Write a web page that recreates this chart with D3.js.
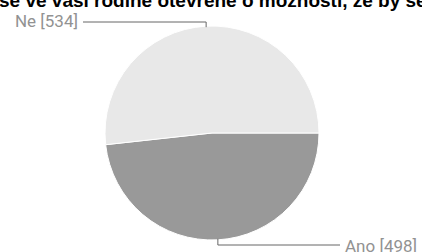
<!DOCTYPE html>
<html><head><meta charset="utf-8">
<script src="https://cdn.jsdelivr.net/npm/d3@7"></script>
<style>body{margin:0;background:#fff}svg{display:block}</style>
</head><body>
<script>
const categories = ["Ano", "Ne"];
const values = [498, 534];
const colors = ["#999999", "#e8e8e8"];
const title = "se ve vaší rodině otevřeně o možnosti, že by se";

const W = 422, H = 252;
const svg = d3.select("body").append("svg").attr("width", W).attr("height", H);

svg.append("text").attr("x", -1).attr("y", 7)
  .attr("font-family", "Liberation Sans, Arial, sans-serif")
  .attr("font-weight", "bold").attr("font-size", 19).attr("fill", "#000")
  .text(title);

const cx = 212, cy = 133, r = 107;
const data = categories.map((c, i) => ({c, v: values[i], col: colors[i]}));
const pie = d3.pie().value(d => d.v).sort(null)
  .startAngle(Math.PI / 2).endAngle(Math.PI / 2 + 2 * Math.PI);
const arcs = pie(data);
const arc = d3.arc().innerRadius(0).outerRadius(r);
const g = svg.append("g").attr("transform", `translate(${cx},${cy})`);
g.selectAll("path").data(arcs).join("path")
  .attr("d", arc).attr("fill", d => d.data.col)
  .attr("stroke", "#fff").attr("stroke-width", 1);

// leader lines and labels
arcs.forEach(a => {
  const m = (a.startAngle + a.endAngle) / 2;
  const px = cx + r * Math.sin(m), py = cy - r * Math.cos(m);
  const lab = `${a.data.c} [${a.data.v}]`;
  const font = "Roboto, Liberation Sans, Arial, sans-serif";
  if (py < cy) {
    const ly = 22;
    svg.append("path").attr("d", `M${px},${py+1}V${ly}H83`)
      .attr("fill", "none").attr("stroke", "#666").attr("stroke-width", 1);
    svg.append("text").attr("x", 78).attr("y", 26.5).attr("text-anchor", "end")
      .attr("font-family", font).attr("font-size", 17).attr("fill", "#929292").text(lab);
  } else {
    const ly = 245;
    svg.append("path").attr("d", `M${px},${py-1}V${ly}H340`)
      .attr("fill", "none").attr("stroke", "#666").attr("stroke-width", 1);
    svg.append("text").attr("x", 345).attr("y", 251.5)
      .attr("font-family", font).attr("font-size", 17).attr("fill", "#929292").text(lab);
  }
});
</script>
</body></html>
